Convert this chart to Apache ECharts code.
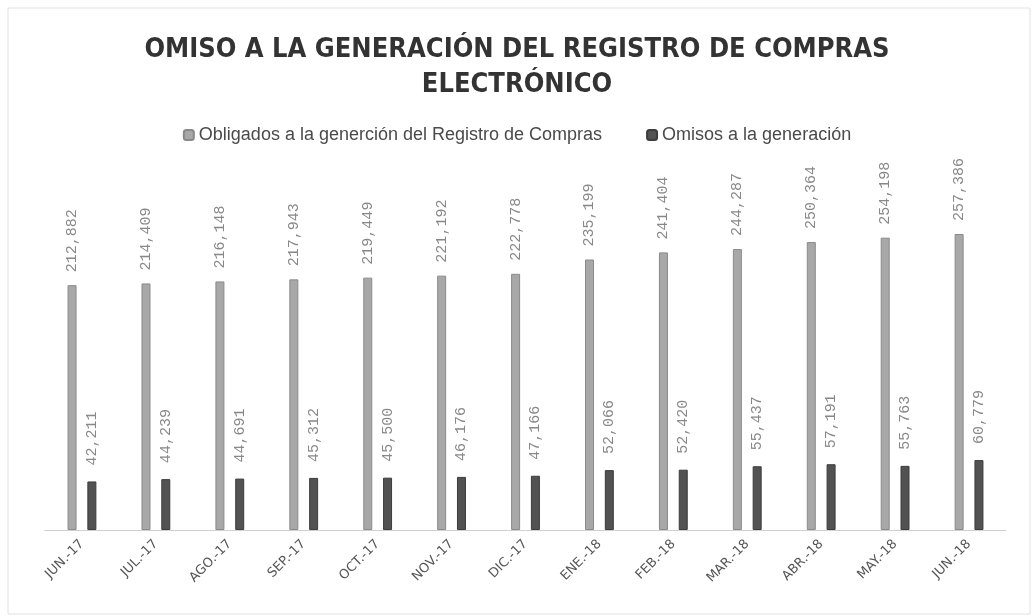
<!DOCTYPE html>
<html>
<head>
<meta charset="utf-8">
<script src="https://cdn.jsdelivr.net/npm/echarts@6/dist/echarts.min.js"></script>
<style>
html, body { margin: 0; padding: 0; background: #fff; }
#main { width: 1034px; height: 616px; }
</style>
</head>
<body>
<div id="main"></div>
<script>
var meses = ['JUN.-17', 'JUL.-17', 'AGO.-17', 'SEP.-17', 'OCT.-17', 'NOV.-17', 'DIC.-17',
	'ENE.-18', 'FEB.-18', 'MAR.-18', 'ABR.-18', 'MAY.-18', 'JUN.-18'];
var obligados = [212882, 214409, 216148, 217943, 219449, 221192, 222778,
	235199, 241404, 244287, 250364, 254198, 257386];
var omisos = [42211, 44239, 44691, 45312, 45500, 46176, 47166,
	52066, 52420, 55437, 57191, 55763, 60779];

var myChart = echarts.init(document.getElementById('main'));

function fmt(p) {
	return String(p.value).replace(/\B(?=(\d{3})+(?!\d))/g, ',');
}

option = {
	backgroundColor : '#fff',
	title : {
		text : 'OMISO A LA GENERACIÓN DEL REGISTRO DE COMPRAS\nELECTRÓNICO',
		left : 'center',
		top : 27,
		textStyle : {
			fontFamily : 'DejaVu Sans Condensed',
			fontWeight : 'bold',
			fontSize : 27,
			lineHeight : 35,
			color : '#333'
		}
	},
	legend : {
		top : 121,
		left : 'center',
		itemWidth : 10,
		itemHeight : 10,
		itemGap : 44,
		textStyle : {
			fontFamily : 'Liberation Sans',
			fontSize : 18,
			color : '#4a4a4a'
		},
		data : [ 'Obligados a la generción del Registro de Compras', 'Omisos a la generación' ]
	},
	grid : {
		left : 45,
		right : 28,
		top : 185,
		bottom : 86
	},
	xAxis : [ {
		type : 'category',
		data : meses,
		axisTick : { show : false },
		axisLine : { lineStyle : { color : '#d0d0d0', width : 1 } },
		axisLabel : {
			rotate : 45,
			margin : 12,
			color : '#555',
			fontFamily : 'DejaVu Sans',
			fontSize : 13
		}
	} ],
	yAxis : [ {
		type : 'value',
		min : 0,
		max : 300000,
		show : false
	} ],
	series : [ {
		name : 'Obligados a la generción del Registro de Compras',
		type : 'bar',
		barWidth : 9,
		barGap : '120%',
		data : obligados,
		itemStyle : { color : '#a8a8a8', borderColor : '#8a8a8a', borderWidth : 1 },
		label : {
			show : true,
			position : 'top',
			rotate : 90,
			align : 'left',
			verticalAlign : 'middle',
			distance : 13,
			formatter : fmt,
			fontFamily : 'Liberation Mono',
			fontSize : 15,
			color : '#888'
		}
	}, {
		name : 'Omisos a la generación',
		type : 'bar',
		barWidth : 9,
		data : omisos,
		itemStyle : { color : '#525252', borderColor : '#3c3c3c', borderWidth : 1 },
		label : {
			show : true,
			position : 'top',
			rotate : 90,
			align : 'left',
			verticalAlign : 'middle',
			distance : 16,
			formatter : fmt,
			fontFamily : 'Liberation Mono',
			fontSize : 15,
			color : '#888'
		}
	} ],
	graphic : [ {
		type : 'rect',
		shape : { x : 8, y : 8, width : 1022, height : 606 },
		style : { fill : 'none', stroke : '#e2e2e2', lineWidth : 1 }
	} ]
};
myChart.setOption(option);
</script>
</body>
</html>
